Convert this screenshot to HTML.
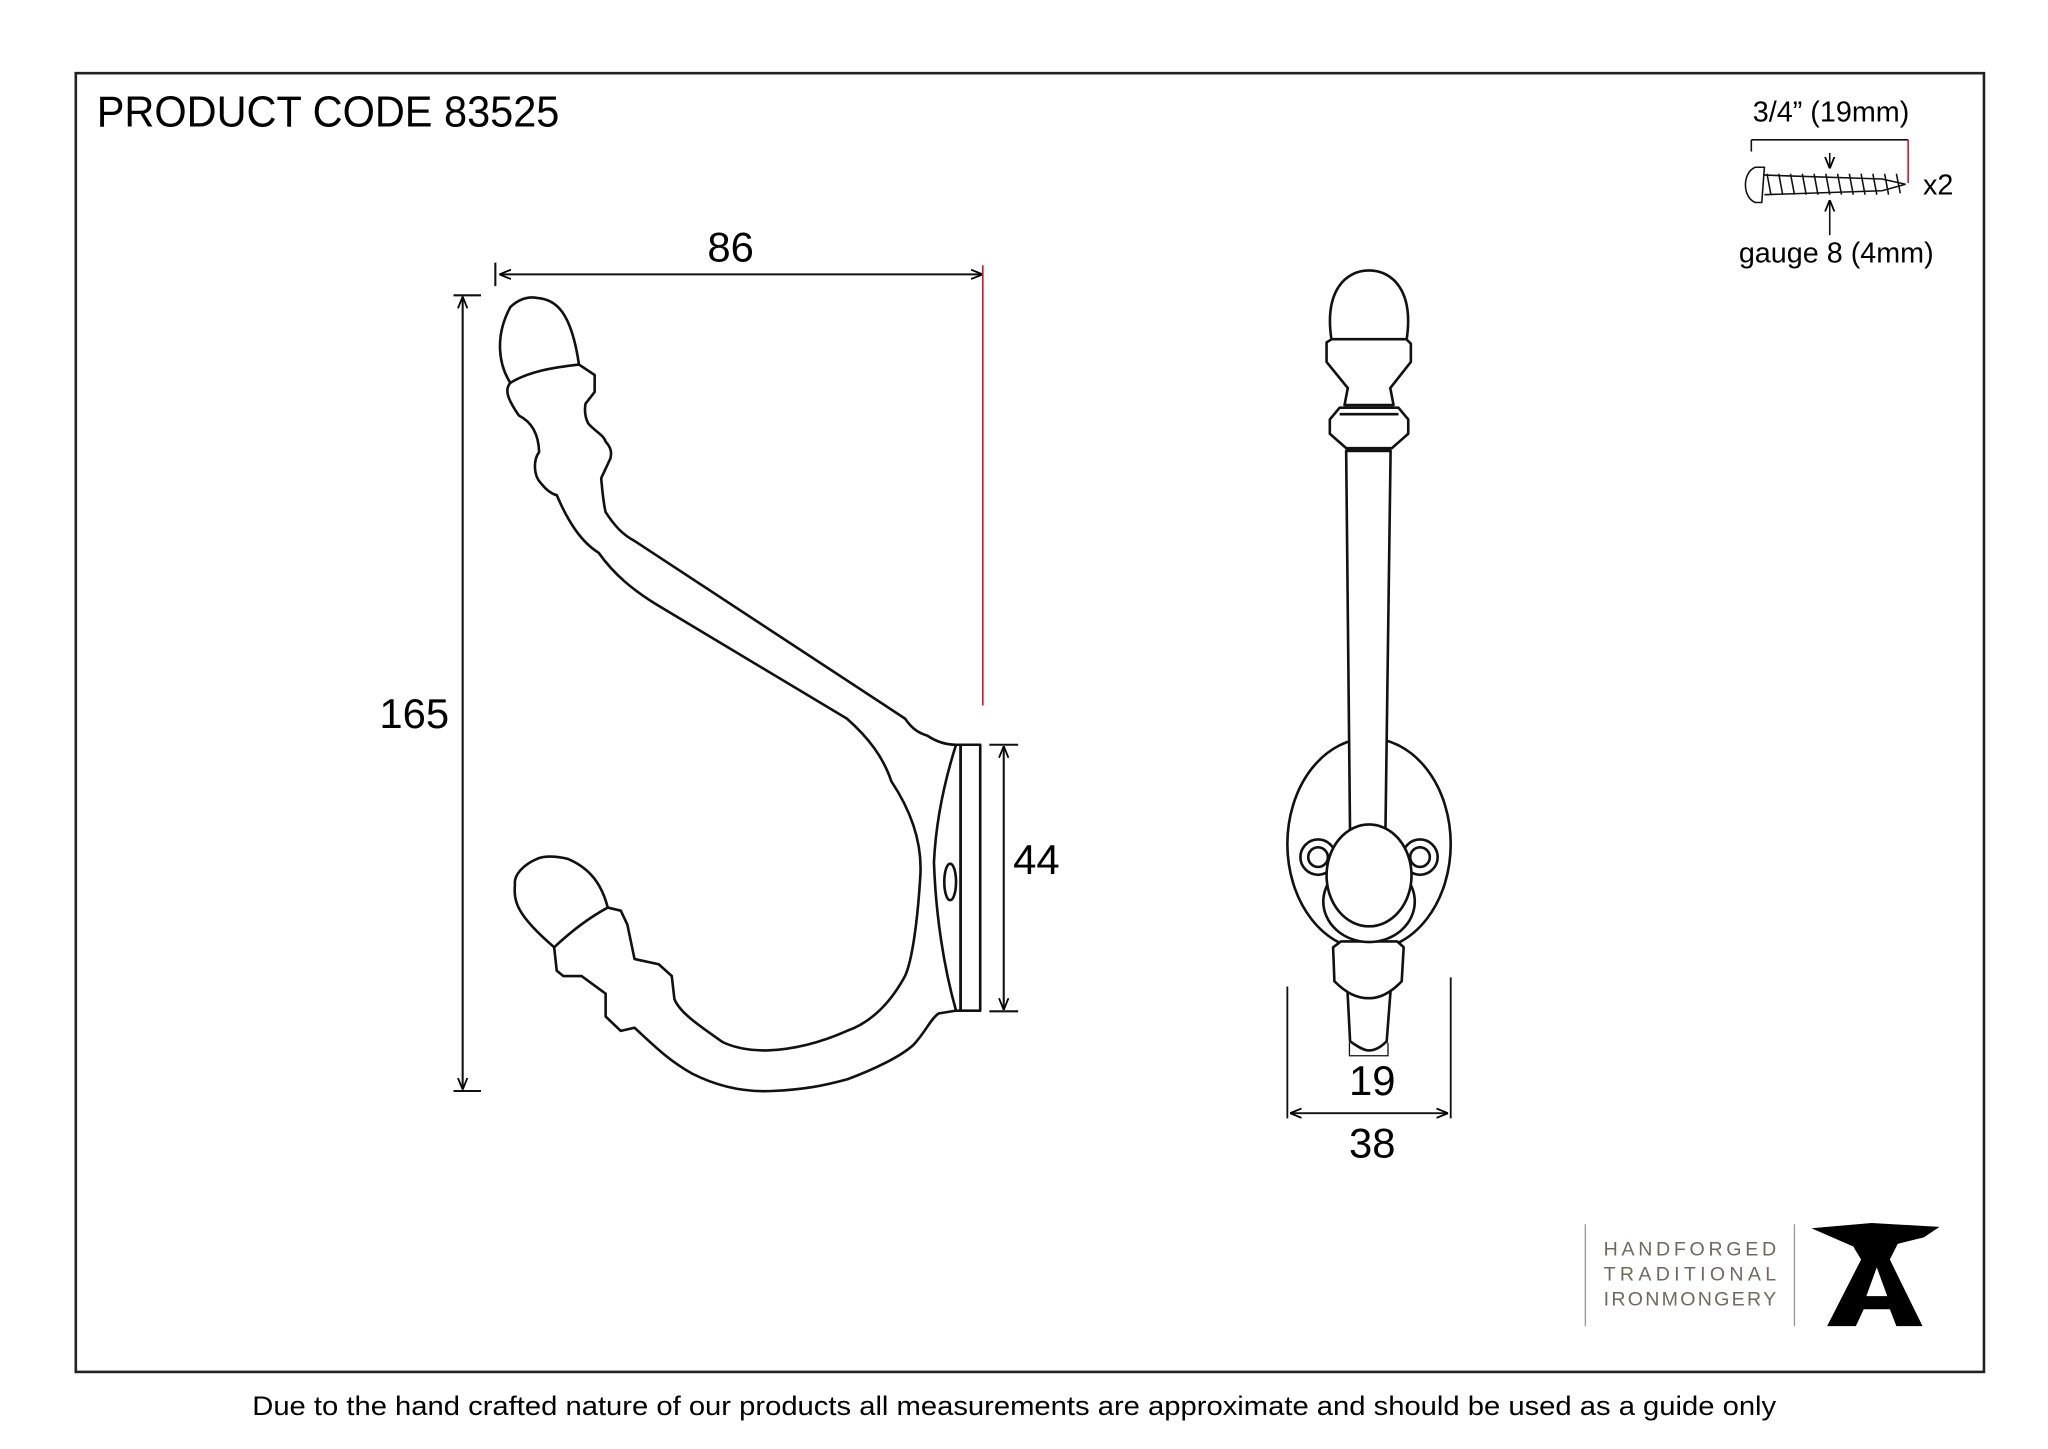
<!DOCTYPE html>
<html><head><meta charset="utf-8"><style>
html,body{margin:0;padding:0;background:#fff;}
svg{display:block;}
text{font-family:"Liberation Sans",sans-serif;}
</style></head><body>
<svg width="2048" height="1449" viewBox="0 0 1567 1109" preserveAspectRatio="none" xmlns="http://www.w3.org/2000/svg">
<defs>
<marker id="a" viewBox="0 0 10 10" refX="10" refY="5" markerWidth="9" markerHeight="9" orient="auto-start-reverse" markerUnits="userSpaceOnUse"><path d="M0,1 L10,5 L0,9" fill="none" stroke="#000" stroke-width="1.5"/></marker>
</defs>
<rect x="0" y="0" width="1567" height="1109" fill="#fff"/>
<rect x="58" y="56" width="1460" height="994" fill="none" stroke="#222" stroke-width="2"/>
<text x="74" y="97" font-size="33" textLength="354" lengthAdjust="spacingAndGlyphs">PRODUCT CODE 83525</text>
<text x="776" y="1083" font-size="20.5" text-anchor="middle" textLength="1166" lengthAdjust="spacingAndGlyphs">Due to the hand crafted nature of our products all measurements are approximate and should be used as a guide only</text>

<g fill="none" stroke="#111" stroke-width="2" stroke-linejoin="round">
<path d="M390.5,293 C382,280 378,258 390.5,235 C398,228 405,227 411,228 C425,229 437,238 443,279"/>
<path d="M390.5,293 C405,284 425,281 443,279"/>
<path d="M390.5,293 C386,298 388,305 397,318 C405,322 412,330 412.5,346 C408,352 408,364 414,370 C418,375 422,378 426,379
 C435,400 445,415 458,423 C470,440 485,452 502,462.5 L648,550 C665,565 676,580 682,598 C700,625 706,650 704,673 C702,705 698,735 692.5,747
 C680,770 665,783 648,789 C630,797 610,803 587,804 C570,804 560,801 553,797.6 C535,785 520,775 516,764.6 L514,747 L504,738 L485.5,734 L480,707.6 L475,697 L465,694.6"/>
<path d="M443,279 L455,287 L455,300 L448,309 C447,315 448,320 450,324 C455,330 462,333 463.4,338 C468,343 468,347 467,351 L460,366 C461,378 462,386 463.4,392 C470,402 476,409 485.5,414 L692.5,550 C698,558 703,561 709.5,563 C717,568 725,570 731.5,570"/>
<path d="M465,694.6 C460,675 450,664 434.6,657.4 C425,655 416,655 410.8,657.4 C400,662 393,670 394,677 C393,690 395,700 424,725 C440,710 455,700 465,694.6"/>
<path d="M424,725 L426,743 L431,747 L445,747 L463.4,760.5 L463.4,778 L475,789 L485.5,786.6 C500,800 512,812 529.6,821.7 C550,832 570,836 590.7,835 C615,834 630,831 648.4,826 C670,818 690,808 699,799.6 C708,790 712,780 718,775.7 L731.5,773.5"/>
<rect x="735" y="570" width="15" height="203.5"/>
<path d="M731.5,570 C722,600 716,630 714.6,660 C716,700 722,740 731.5,773.5 L735,773.5 L735,570 Z"/>
<ellipse cx="727" cy="675" rx="4.5" ry="14"/>
</g>
<g stroke="#111" stroke-width="1.6" fill="none">
<line x1="382" y1="210" x2="752" y2="210" marker-start="url(#a)" marker-end="url(#a)"/>
<line x1="379" y1="201" x2="379" y2="219"/>
<line x1="354" y1="227" x2="354" y2="834" marker-start="url(#a)" marker-end="url(#a)"/>
<line x1="347" y1="226" x2="368" y2="226"/>
<line x1="347" y1="835" x2="368" y2="835"/>
<line x1="768" y1="571" x2="768" y2="773" marker-start="url(#a)" marker-end="url(#a)"/>
<line x1="757" y1="570" x2="779" y2="570"/>
<line x1="757" y1="774" x2="779" y2="774"/>
</g>
<line x1="752" y1="203" x2="752" y2="540" stroke="#d0102a" stroke-width="1.2"/>
<text x="559" y="200" font-size="32" text-anchor="middle">86</text>
<text x="317" y="557" font-size="32" text-anchor="middle">165</text>
<text x="793" y="669" font-size="32" text-anchor="middle">44</text>

<g fill="#fff" stroke="#111" stroke-width="2" stroke-linejoin="round">
<ellipse cx="1047.5" cy="646" rx="62.5" ry="81"/>
<circle cx="1008.5" cy="656" r="13.5"/>
<circle cx="1008.5" cy="656" r="7.5"/>
<circle cx="1086.5" cy="656" r="13.5"/>
<circle cx="1086.5" cy="656" r="7.5"/>
<path d="M1030,345 L1033,640 L1060,640 L1064,345 Z"/>
<path d="M1018.75,260 C1013,222 1030,207 1047.5,207 C1065,207 1082,222 1076.25,260 Z"/>
<path d="M1015,262 L1019,259.6 L1076,259.6 L1079.5,263 L1079.5,277 L1063.75,297 L1066.25,310 L1028.75,310 L1031.25,297 L1015,277 Z"/>
<path d="M1025,312 L1070,312 L1077.5,321 L1077.5,332 L1065,343 L1030,343 L1017.5,332 L1017.5,321 Z"/>
<line x1="1025" y1="317" x2="1070" y2="317"/>
<line x1="1030" y1="345" x2="1064" y2="345"/>
<path d="M1031,758 L1033,797 C1040,802 1044,804 1047.5,804 C1052,804 1056,802 1061,797 L1064,758 Z"/>
<path d="M1020,725 L1026,720.5 L1069,720.5 L1074,725 L1072.5,751 C1064,760 1056,764 1047.5,764 C1038,764 1030,760 1021,751 Z"/>
<ellipse cx="1047.5" cy="690" rx="35" ry="31"/>
<ellipse cx="1047.5" cy="670" rx="32.5" ry="39"/>
</g>
<g stroke="#111" stroke-width="1.4" fill="none">
<path d="M1032.5,798 L1032.5,808 L1062,808 L1062,798" stroke-width="1"/>
<line x1="985" y1="755" x2="985" y2="856"/>
<line x1="1110" y1="748" x2="1110" y2="856"/>
<line x1="987" y1="852" x2="1108" y2="852" marker-start="url(#a)" marker-end="url(#a)"/>
</g>
<text x="1050" y="838" font-size="32" text-anchor="middle">19</text>
<text x="1050" y="886" font-size="32" text-anchor="middle">38</text>

<text x="1401" y="93" font-size="22" text-anchor="middle">3/4” (19mm)</text>
<g stroke="#111" stroke-width="1.2" fill="none">
<line x1="1340" y1="107" x2="1460" y2="107"/>
<line x1="1340" y1="107" x2="1340" y2="116"/>
<path d="M1343,128 C1333,132 1333,151 1343,155 L1348,155 L1350,128 Z" fill="#fff"/>
<path d="M1350,134 L1440,137 L1458,141 L1440,146 L1350,149"/>
<path d="M1352,133 l3,16 m6,-16 l3,16 m6,-16 l3,16 m6,-16 l3,16 m6,-16 l3,16 m6,-16 l3,16 m6,-16 l3,16 m6,-16 l3,16 m6,-16 l3,16 m6,-16 l3,16 m6,-16 l3,16 m6,-16 l3,15"/>
<line x1="1400" y1="117" x2="1400" y2="129" marker-end="url(#a)"/>
<line x1="1400" y1="180" x2="1400" y2="153" marker-end="url(#a)"/>
</g>
<line x1="1460" y1="107" x2="1460" y2="140" stroke="#d0102a" stroke-width="1.2"/>
<text x="1483" y="149" font-size="22" text-anchor="middle">x2</text>
<text x="1405" y="201" font-size="22" text-anchor="middle">gauge 8 (4mm)</text>

<line x1="1213" y1="937" x2="1213" y2="1015" stroke="#999" stroke-width="1"/>
<line x1="1373" y1="937" x2="1373" y2="1015" stroke="#999" stroke-width="1"/>
<g font-family="Liberation Serif,serif" font-size="15" fill="#6f6a5c">
<text x="1227" y="961" textLength="132" lengthAdjust="spacing">HANDFORGED</text>
<text x="1227" y="980" textLength="132" lengthAdjust="spacing">TRADITIONAL</text>
<text x="1227" y="999" textLength="132" lengthAdjust="spacing">IRONMONGERY</text>
</g>
<path d="M1386,940 L1432,936 L1484,939 L1472,947 L1452,952 L1446,964 L1471,1015 L1451,1015 L1446,1002 L1426,1002 L1420,1015 L1398,1015 L1424,964 L1418,954 Z" fill="#000"/>
<path d="M1428,992 L1444,992 L1436,970 Z" fill="#fff"/>
</svg>
</body></html>
